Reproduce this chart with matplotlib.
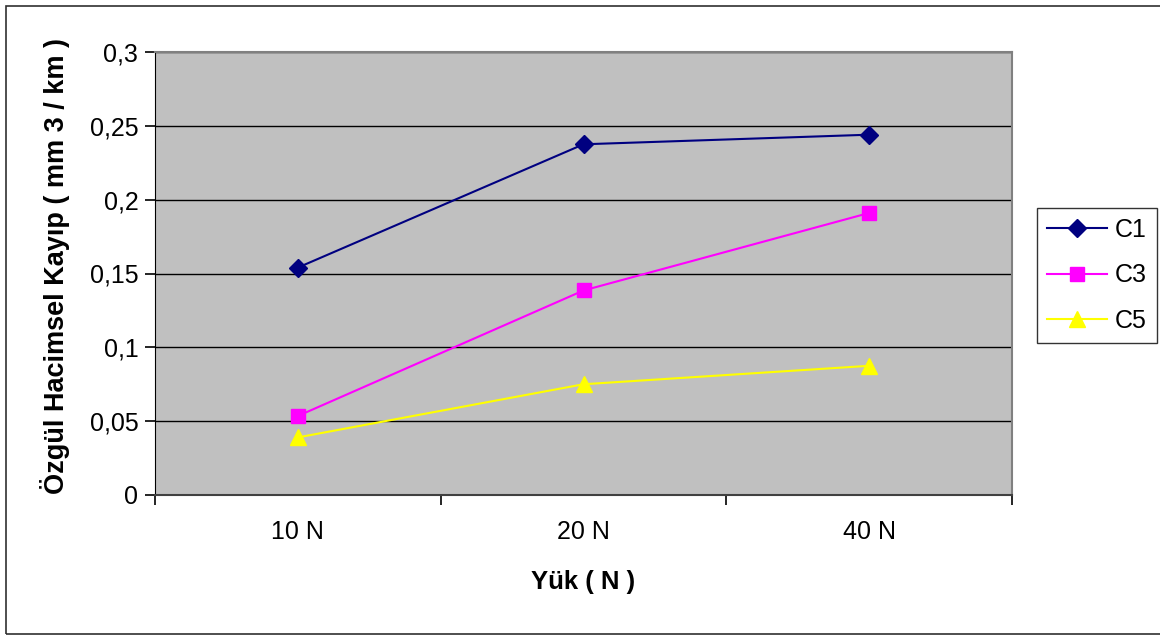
import matplotlib
matplotlib.use("Agg")
import matplotlib.pyplot as plt
from matplotlib.patches import Rectangle
import numpy as np

plt.rcParams['font.family'] = ['Liberation Sans', 'DejaVu Sans']

categories = ["10 N", "20 N", "40 N"]
c1 = [0.154, 0.2375, 0.244]
c3 = [0.0535, 0.1385, 0.191]
c5 = [0.039, 0.075, 0.0875]
series_names = ["C1", "C3", "C5"]
y_ticks = [0, 0.05, 0.1, 0.15, 0.2, 0.25, 0.3]
y_tick_labels = ["0", "0,05", "0,1", "0,15", "0,2", "0,25", "0,3"]

W, H = 1160, 635
fig = plt.figure(figsize=(W / 100, H / 100), dpi=100)
fig.patch.set_facecolor("white")

# outer chart frame
fig.patches.append(Rectangle((6 / W, 1 - 634 / H), (W + 10) / W, (634 - 6) / H,
                             transform=fig.transFigure, fill=False,
                             edgecolor="#303030", linewidth=1.2, zorder=0))

ax = fig.add_axes([155 / W, 1 - 495 / H, (1012 - 155) / W, (495 - 52) / H])
ax.set_facecolor("#C0C0C0")

x = np.arange(len(categories))
ax.plot(x, c1, color="#000080", marker="D", markersize=9, linewidth=1.5,
        label=series_names[0], zorder=3)
ax.plot(x, c3, color="#FF00FF", marker="s", markersize=9.5, linewidth=1.5,
        label=series_names[1], zorder=3)
ax.plot(x, c5, color="#FFFF00", marker="^", markersize=11, linewidth=1.5,
        label=series_names[2], zorder=3)

ax.set_xlim(-0.5, len(categories) - 0.5)
ax.set_ylim(0, 0.3)
ax.set_yticks(y_ticks)
ax.set_yticklabels(y_tick_labels, fontsize=18)
ax.yaxis.grid(True, color="black", linewidth=1.0)
ax.set_axisbelow(True)

ax.set_xticks(x)
ax.set_xticklabels(categories, fontsize=18)
ax.tick_params(axis="x", which="major", length=0, pad=18)
ax.set_xticks(np.arange(-0.5, len(categories), 1.0), minor=True)
ax.tick_params(axis="x", which="minor", length=7, width=1.2, color="black",
               direction="out")
ax.tick_params(axis="y", length=7, width=1.2, direction="out", pad=5)

for side in ("top", "right"):
    ax.spines[side].set_color("#808080")
    ax.spines[side].set_linewidth(1.5)
ax.spines["left"].set_color("black")
ax.spines["bottom"].set_color("#404040")
ax.spines["bottom"].set_linewidth(1.5)

ax.set_xlabel("Yük ( N )", fontsize=18.5, fontweight="bold", labelpad=19)
ax.set_ylabel("Özgül Hacimsel Kayıp ( mm 3 / km )", fontsize=19.5,
              fontweight="bold", va="center")
ax.yaxis.set_label_coords(-0.117, 0.517)

leg = fig.legend(loc="upper left", bbox_to_anchor=(1037 / W, 1 - 208 / H),
                 fontsize=18, frameon=True, fancybox=False,
                 edgecolor="black", borderpad=0.4, labelspacing=0.85,
                 handlelength=2.4, handletextpad=0.3, borderaxespad=0)
leg.get_frame().set_linewidth(1.0)

fig.savefig("out.png", dpi=100, facecolor="white")
